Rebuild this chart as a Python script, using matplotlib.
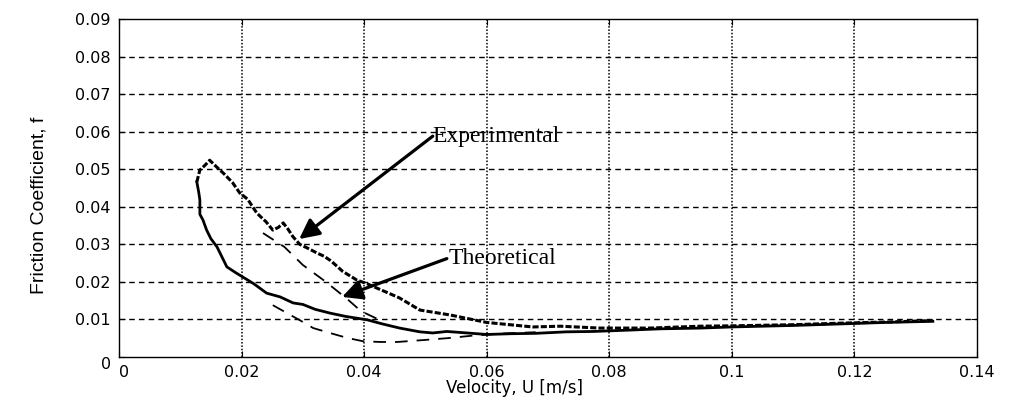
import matplotlib
matplotlib.use("Agg")
import matplotlib.pyplot as plt
from matplotlib import font_manager

# ---- data ----
exp_up_x = [0.0127, 0.0132, 0.0140, 0.0148, 0.0160, 0.0170, 0.0185, 0.0197, 0.0210, 0.0225,
            0.0240, 0.0251, 0.0260, 0.0268, 0.0276, 0.0284, 0.0295, 0.0310, 0.0323, 0.0335,
            0.0344, 0.0350, 0.0365, 0.0388, 0.0405, 0.0420, 0.0440, 0.0458, 0.0491, 0.0540,
            0.0600, 0.0675, 0.0720, 0.0785, 0.0866, 0.0948, 0.1000, 0.1100, 0.1176, 0.1250, 0.1328]
exp_up_y = [0.0466, 0.0498, 0.0510, 0.0524, 0.0505, 0.0490, 0.0465, 0.0437, 0.0420, 0.0383,
            0.0360, 0.0338, 0.0345, 0.0357, 0.0340, 0.0320, 0.0300, 0.0288, 0.0277, 0.0268,
            0.0258, 0.0250, 0.0228, 0.0205, 0.0195, 0.0184, 0.0170, 0.0157, 0.0125, 0.0112,
            0.0092, 0.0080, 0.0082, 0.0077, 0.0077, 0.0082, 0.0083, 0.0086, 0.0090, 0.0093, 0.0097]

exp_lo_x = [0.0127, 0.0130, 0.0132, 0.0132, 0.0137, 0.0143, 0.0150, 0.0160, 0.0176, 0.0190,
            0.0202, 0.0220, 0.0241, 0.0263, 0.0284, 0.0300, 0.0320, 0.0344, 0.0370, 0.0405,
            0.0430, 0.0458, 0.0491, 0.0512, 0.0535, 0.0568, 0.0600, 0.0640, 0.0680, 0.0730,
            0.0774, 0.0839, 0.0883, 0.0948, 0.1000, 0.1100, 0.1176, 0.1250, 0.1328]
exp_lo_y = [0.0466, 0.0440, 0.0418, 0.0380, 0.0365, 0.0338, 0.0315, 0.0293, 0.0240, 0.0225,
            0.0213, 0.0195, 0.0170, 0.0160, 0.0144, 0.0140, 0.0127, 0.0117, 0.0108, 0.0099,
            0.0088, 0.0077, 0.0067, 0.0064, 0.0068, 0.0064, 0.0060, 0.0062, 0.0063, 0.0067,
            0.0068, 0.0072, 0.0075, 0.0077, 0.0080, 0.0084, 0.0088, 0.0092, 0.0095]

theo_up_x = [0.0235, 0.0270, 0.0300, 0.0336, 0.0372, 0.0395, 0.0430]
theo_up_y = [0.0330, 0.0293, 0.0245, 0.0202, 0.0155, 0.0122, 0.0095]

theo_lo_x = [0.0251, 0.0274, 0.0295, 0.0317, 0.0344, 0.0372, 0.0398, 0.0426, 0.0454, 0.0496,
             0.0535, 0.0578, 0.0620, 0.0680]
theo_lo_y = [0.0138, 0.0117, 0.0098, 0.0077, 0.0064, 0.0051, 0.0042, 0.0040, 0.0040, 0.0045,
             0.0050, 0.0057, 0.0062, 0.0066]

xticks = [0, 0.02, 0.04, 0.06, 0.08, 0.1, 0.12, 0.14]
xtick_labels = ["0", "0.02", "0.04", "0.06", "0.08", "0.1", "0.12", "0.14"]
yticks = [0, 0.01, 0.02, 0.03, 0.04, 0.05, 0.06, 0.07, 0.08, 0.09]
ytick_labels = ["0", "0.01", "0.02", "0.03", "0.04", "0.05", "0.06", "0.07", "0.08", "0.09"]

exp_label = "Experimental"
exp_text_xy = (0.0512, 0.0588)
exp_tip_xy = (0.0294, 0.0314)
theo_label = "Theoretical"
theo_text_xy = (0.0535, 0.0262)
theo_tip_xy = (0.0364, 0.0160)

xlabel = "Velocity, U [m/s]"
ylabel = "Friction Coefficient, f"

# ---- figure ----
fig = plt.figure(figsize=(10.1, 4.0), dpi=100)
ax = fig.add_axes([0.1178, 0.1075, 0.8495, 0.845])

ax.plot(exp_up_x, exp_up_y, color="black", lw=2.2, ls=(0, (2.0, 0.7)))
ax.plot(exp_lo_x, exp_lo_y, color="black", lw=2.0, ls="-")
ax.plot(theo_up_x, theo_up_y, color="black", lw=1.3, ls=(0, (7, 5)))
ax.plot(theo_lo_x, theo_lo_y, color="black", lw=1.3, ls=(0, (7, 5)))

ax.set_xlim(0, 0.14)
ax.set_ylim(0, 0.09)
ax.set_xticks(xticks)
ax.set_xticklabels(xtick_labels)
ax.set_yticks(yticks)
ax.set_yticklabels(ytick_labels)

tick_font = dict(family="DejaVu Sans", size=11.5)
for lab in ax.get_xticklabels() + ax.get_yticklabels():
    lab.set_fontfamily("DejaVu Sans")
    lab.set_fontsize(11.5)
ax.tick_params(direction="in", length=4, width=0.8, top=True, right=True, pad=6)

xt = ax.xaxis.get_major_ticks()
xt[0].label1.set_horizontalalignment("left")
yt = ax.yaxis.get_major_ticks()
yt[0].label1.set_verticalalignment("top")

# grid: horizontal dashed, vertical dotted
for y in yticks[1:-1]:
    ax.axhline(y, color="black", lw=1.0, ls=(0, (4, 3)), zorder=0)
for x in xticks[1:-1]:
    ax.axvline(x, color="black", lw=1.1, ls=(0, (1, 1.2)), zorder=0)

for sp in ax.spines.values():
    sp.set_linewidth(1.0)

# annotations
ax.annotate("", xy=exp_tip_xy, xytext=exp_text_xy,
            arrowprops=dict(arrowstyle="-|>", lw=2.3, color="black",
                            mutation_scale=30, shrinkA=0, shrinkB=0))
ax.text(exp_text_xy[0], exp_text_xy[1], exp_label, family="Liberation Serif",
        fontsize=17, ha="left", va="center")
ax.annotate("", xy=theo_tip_xy, xytext=theo_text_xy,
            arrowprops=dict(arrowstyle="-|>", lw=2.3, color="black",
                            mutation_scale=30, shrinkA=0, shrinkB=0))
ax.text(theo_text_xy[0] + 0.0003, theo_text_xy[1], theo_label, family="Liberation Serif",
        fontsize=17, ha="left", va="center")

# axis labels
fig.text(514 / 1010, 1 - 388 / 400, xlabel, family="DejaVu Sans", fontsize=12,
         ha="center", va="center")
names = {f.name for f in font_manager.fontManager.ttflist}
yfam = "Liberation Sans Narrow" if "Liberation Sans Narrow" in names else "Liberation Sans"
fig.text(39 / 1010, 1 - 205 / 400, ylabel, family=yfam, fontsize=14,
         rotation=90, ha="center", va="center")

fig.savefig("out.png", dpi=100, facecolor="white")
